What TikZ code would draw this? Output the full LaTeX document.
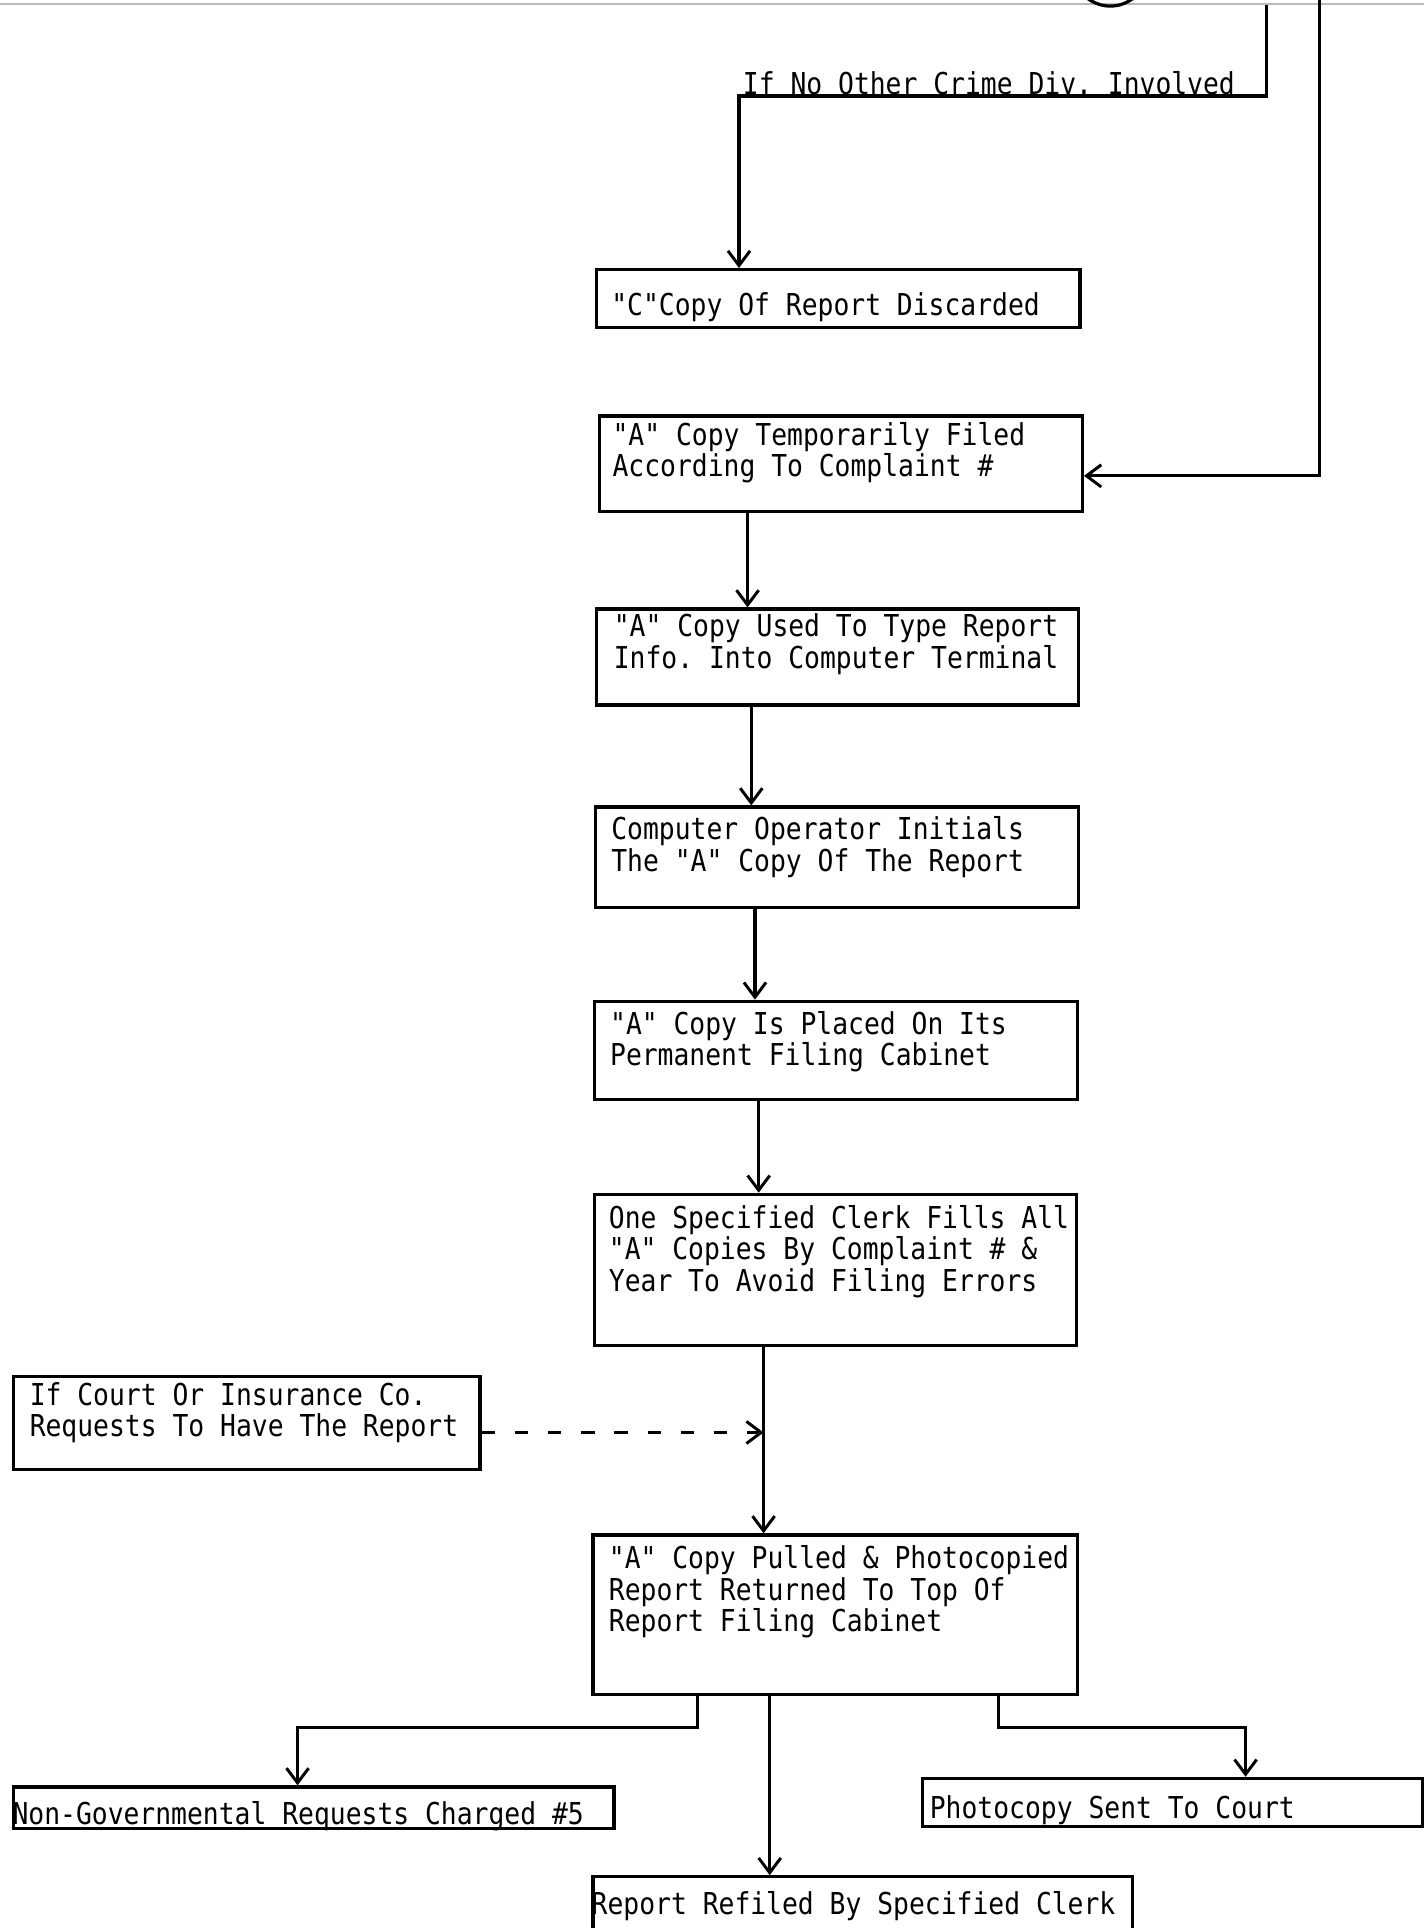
\documentclass[tikz,border=0pt]{standalone}
\usepackage{fontspec}
\newfontfamily\tw[FakeStretch=0.875]{DejaVu Sans Mono}
\usetikzlibrary{arrows.meta}
\frenchspacing
\begin{document}
\begin{tikzpicture}[x=1pt,y=-1pt,
  box/.style={draw, line width=2.6pt, inner sep=0pt, anchor=north west},
  txt/.style={font=\tw\fontsize{24.5}{25.5}\selectfont, align=left, inner sep=0pt, anchor=north west},
  arr/.style={line width=2.6pt, -{Straight Barb[length=12pt,width=18pt,line width=2.4pt]}},
  dasharr/.style={arr, dash pattern=on 11pt off 16pt}]
\useasboundingbox (0,0) rectangle (1158,1568);
\fill[white] (0,0) rectangle (1158,1568);

% edge of the sheet above and the foot of the oval step
\begin{scope}
  \clip (0,0) rectangle (1158,1568);
  \draw[gray!55, line width=1.4pt] (0,3) -- (1158,3);
  \draw[line width=2.6pt] (903,-50) ellipse [x radius=40, y radius=55];
\end{scope}

% boxes
\node[box, minimum width=393, minimum height=47]  (bC)    at (484,218)  {};
\node[box, minimum width=393, minimum height=78]  (bA1)   at (486,337)  {};
\node[box, minimum width=392, minimum height=78]  (bA2)   at (484,494)  {};
\node[box, minimum width=393, minimum height=82]  (bOp)   at (483,655)  {};
\node[box, minimum width=393, minimum height=80]  (bPerm) at (482,813)  {};
\node[box, minimum width=392, minimum height=123] (bClerk) at (482,970) {};
\node[box, minimum width=379, minimum height=76]  (bCourt) at (10,1118) {};
\node[box, minimum width=394, minimum height=130] (bPull) at (481,1247) {};
\node[box, minimum width=488, minimum height=34]  (bNG)   at (10,1452)  {};
\node[box, minimum width=407, minimum height=39]  (bPh)   at (749,1445) {};
\node[box, minimum width=439, minimum height=60]  (bRef)  at (481,1525) {};

% box texts
\node[txt] (tC)     at (497,238)  {"C"Copy Of Report Discarded};
\node[txt] (tA1)    at (498,343)  {"A" Copy Temporarily Filed\\According To Complaint \#};
\node[txt] (tA2)    at (499,499)  {"A" Copy Used To Type Report\\Info. Into Computer Terminal};
\node[txt] (tOp)    at (497,664)  {Computer Operator Initials\\The "A" Copy Of The Report};
\node[txt] (tPerm)  at (496,822)  {"A" Copy Is Placed On Its\\Permanent Filing Cabinet};
\node[txt] (tClerk) at (495,980)  {One Specified Clerk Fills All\\"A" Copies By Complaint \# \&\\Year To Avoid Filing Errors};
\node[txt] (tCourt) at (24,1124)  {If Court Or Insurance Co.\\Requests To Have The Report};
\node[txt] (tPull)  at (495,1257) {"A" Copy Pulled \& Photocopied\\Report Returned To Top Of\\Report Filing Cabinet};
\node[txt] (tNG)    at (10,1465)  {Non-Governmental Requests Charged \#5};
\node[txt] (tPh)    at (756,1460) {Photocopy Sent To Court};
\node[txt] (tRef)   at (481,1538) {Report Refiled By Specified Clerk};

% routing points
\coordinate (top1) at (1030,4);
\coordinate (k1) at (1030,78);
\coordinate (k2) at (601,78);
\coordinate (top2) at (1073,0);
\coordinate (k3) at (1073,387);
\coordinate (x1) at (608,0);
\coordinate (x2) at (611,0);
\coordinate (x3) at (614,0);
\coordinate (x4) at (617,0);
\coordinate (x5) at (621,0);
\coordinate (dy) at (0,1165);
\coordinate (l1) at (567,1405);
\coordinate (l2) at (242,1405);
\coordinate (xm) at (626,0);
\coordinate (r1) at (812,1405);
\coordinate (r2) at (1013,1405);

% branch label
\node[txt, anchor=base west] (lbl) at (604,77) {If No Other Crime Div. Involved};

% connectors
\draw[arr] (top1) -- (k1) -- (k2) -- (k2 |- bC.north);
\draw[arr] (top2) -- (k3) -- (k3 -| bA1.east);
\draw[arr] (bA1.south -| x1) -- (bA2.north -| x1);
\draw[arr] (bA2.south -| x2) -- (bOp.north -| x2);
\draw[arr] (bOp.south -| x3) -- (bPerm.north -| x3);
\draw[arr] (bPerm.south -| x4) -- (bClerk.north -| x4);
\draw[arr] (bClerk.south -| x5) -- (bPull.north -| x5);
\draw[dasharr] (bCourt.east |- dy) -- (dy -| x5);
\draw[arr] (bPull.south -| l1) -- (l1) -- (l2) -- (l2 |- bNG.north);
\draw[arr] (bPull.south -| xm) -- (bRef.north -| xm);
\draw[arr] (bPull.south -| r1) -- (r1) -- (r2) -- (r2 |- bPh.north);
\end{tikzpicture}
\end{document}
